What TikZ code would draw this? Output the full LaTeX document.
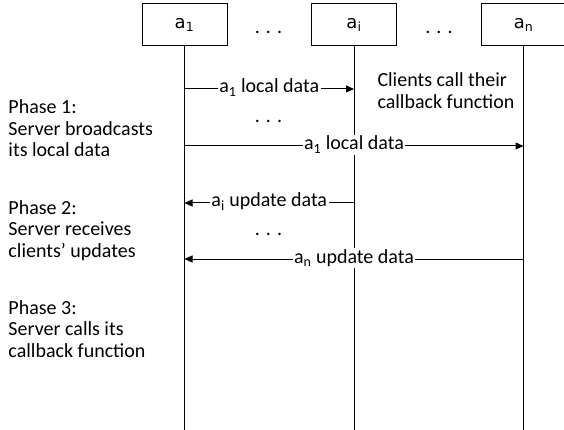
\documentclass[tikz,border=0pt]{standalone}
\usepackage{fontspec}
\setmainfont{Carlito}
\newfontfamily\boxfont{DejaVu Sans}
\usetikzlibrary{arrows.meta}

\tikzset{
  party/.style={draw, line width=1pt, minimum width=85pt, minimum height=42pt,
    font=\boxfont\fontsize{18}{20}\selectfont},
  msg/.style={line width=1pt, -{Triangle[length=8pt,width=7pt]}},
  lbl/.style={fill=white, inner sep=1.5pt, anchor=base, yshift=-4pt},
  txt/.style={align=left, anchor=base west, inner sep=0pt}
}

\begin{document}
\begin{tikzpicture}[x=1pt, y=-1pt, line width=1pt,
    font=\fontsize{20}{21.5}\selectfont]
    \useasboundingbox (0,0) rectangle (564,430);
    \coordinate (bot) at (0,432);
    % clients
    \node[party] (a1) at (184.5,25) {a\textsubscript{1}};
    \node[party] (ai) at (354,25) {a\textsubscript{i}};
    \node[party] (an) at (523.5,25) {a\textsubscript{n}};
    \node[anchor=base] (d1) at (268.5,34) {. . .};
    \node[anchor=base] (d2) at (439,34) {. . .};
    \draw (a1.south) -- (a1.south |- bot);
    \draw (ai.south) -- (ai.south |- bot);
    \draw (an.south) -- (an.south |- bot);
    % phase 1
    \draw[msg] (a1.south |- 0,89) -- node[lbl] {a\textsubscript{1} local data} (ai.south |- 0,89);
    \node[anchor=base] (d3) at (268.5,123) {. . .};
    \draw[msg] (a1.south |- 0,146) -- node[lbl] {a\textsubscript{1} local data} (an.south |- 0,146);
    \node[txt] (cb) at (377,108.5) {Clients call their\\callback function};
    % phase 2
    \draw[msg] (ai.south |- 0,203) -- node[lbl] {a\textsubscript{i} update data} (a1.south |- 0,203);
    \node[anchor=base] (d4) at (268.5,235) {. . .};
    \draw[msg] (an.south |- 0,259) -- node[lbl] {a\textsubscript{n} update data} (a1.south |- 0,259);
    % phases (base = last line)
    \node[txt] (p1) at (8,157) {Phase 1:\\Server broadcasts\\its local data};
    \node[txt] (p2) at (8,257) {Phase 2:\\Server receives\\clients’ updates};
    \node[txt] (p3) at (8,357) {Phase 3:\\Server calls its\\callback function};
\end{tikzpicture}
\end{document}
